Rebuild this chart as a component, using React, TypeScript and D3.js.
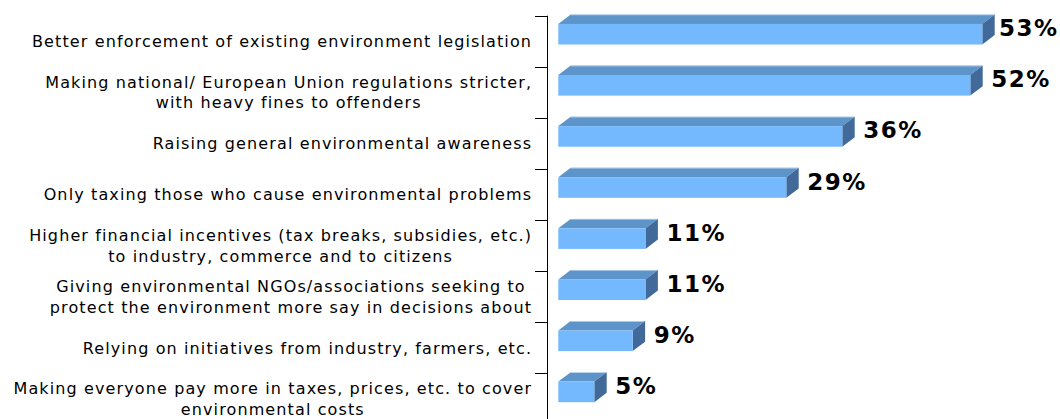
import React from "react";
import * as d3 from "d3";

const categories: string[][] = [
  ["Better enforcement of existing environment legislation"],
  ["Making national/ European Union regulations stricter,", "with heavy fines to offenders"],
  ["Raising general environmental awareness"],
  ["Only taxing those who cause environmental problems"],
  ["Higher financial incentives (tax breaks, subsidies, etc.)", "to industry, commerce and to citizens"],
  ["Giving environmental NGOs/associations seeking to", "protect the environment more say in decisions about"],
  ["Relying on initiatives from industry, farmers, etc."],
  ["Making everyone pay more in taxes, prices, etc. to cover", "environmental costs"],
];
const values: number[] = [53, 51.5, 35.5, 28.5, 10.9, 10.9, 9.3, 4.5];

const W = 1060;
const H = 419;
const axisX = 547.5;
const barX0 = 558.3;
const top = 15.7;
const band = 51.1;
const depthX = 12.4;
const depthY = 9.4;
const frontH = 20.6;
const frontOff = 8.2;

const FRONT = "#74B8FE";
const TOPC = "#5D94CA";
const SIDE = "#41699A";
const FONT = "DejaVu Sans, Verdana, sans-serif";

let ctx: CanvasRenderingContext2D | null = null;
function measure(s: string, size: number, weight: string, ls: number): number {
  if (!ctx) ctx = document.createElement("canvas").getContext("2d");
  if (!ctx) return s.length * size * 0.6;
  ctx.font = `${weight} ${size}px "DejaVu Sans"`;
  return ctx.measureText(s).width + ls * s.length;
}

export default function App() {
  const ids = categories.map((_, i) => String(i));
  const y = d3.scaleBand<string>().domain(ids).range([top, top + band * ids.length]).padding(0);
  const x = d3.scaleLinear().domain([0, 62.5]).range([barX0, barX0 + 500]);
  const valFont = 23;
  const valLs = 1.5;
  const labFont = 16;
  const labLs = 1.12;
  const lineH = 20.5;
  const labRight = 531;

  return (
    <svg width={W} height={H} style={{ position: "absolute", left: 0, top: 0, background: "#fff" }}>
      <line x1={axisX} x2={axisX} y1={top} y2={H + 10} stroke="#000" strokeWidth={1} />
      {ids.map((id) => (
        <line key={"t" + id} x1={535} x2={axisX} y1={Math.round(y(id)!) + 0.5} y2={Math.round(y(id)!) + 0.5} stroke="#000" strokeWidth={1} />
      ))}
      {ids.map((id, i) => {
        const lines = categories[i];
        const widths = lines.map((l) => measure(l, labFont, "normal", labLs) - labLs);
        const maxW = Math.max(...widths);
        const cx = labRight - maxW / 2;
        const cy = y(id)! + y.bandwidth() / 2;
        const startY = cy - ((lines.length - 1) * lineH) / 2;
        return (
          <g key={"c" + id}>
            {lines.map((l, j) => (
              <text key={j} x={cx - widths[j] / 2} y={startY + j * lineH} dy="0.36em" fontFamily={FONT} fontSize={labFont} letterSpacing={labLs} fill="#000">
                {l}
              </text>
            ))}
          </g>
        );
      })}
      {ids.map((id, i) => {
        const y0 = y(id)! + frontOff;
        const x0 = x(0);
        const x1 = x(values[i]);
        const topPts = [[x0, y0], [x0 + depthX, y0 - depthY], [x1 + depthX, y0 - depthY], [x1, y0]];
        const sidePts = [[x1, y0], [x1 + depthX, y0 - depthY], [x1 + depthX, y0 + frontH - depthY], [x1, y0 + frontH]];
        const label = Math.round(values[i]) + "%";
        const estW = measure(label, valFont, "bold", valLs) - valLs;
        let lx = x1 + 21;
        if (lx + estW > 1057) lx = 1057 - estW;
        return (
          <g key={"b" + id}>
            <polygon points={topPts.map((p) => p.join(",")).join(" ")} fill={TOPC} />
            <line x1={x0 + depthX} x2={x1 + depthX} y1={y0 - depthY + 0.3} y2={y0 - depthY + 0.3} stroke="#C9DDF2" strokeWidth={0.8} />
            <polygon points={sidePts.map((p) => p.join(",")).join(" ")} fill={SIDE} />
            <rect x={x0} y={y0} width={x1 - x0} height={frontH} fill={FRONT} />
            <text x={lx} y={y0 + 12.3} fontFamily={FONT} fontWeight="bold" fontSize={valFont} letterSpacing={valLs} fill="#000">
              {label}
            </text>
          </g>
        );
      })}
    </svg>
  );
}
